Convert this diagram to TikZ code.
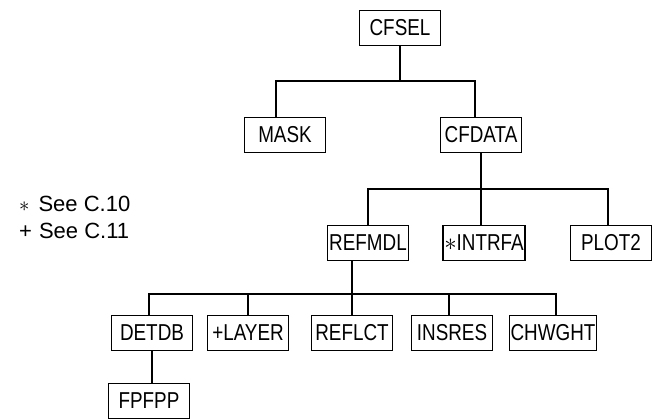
\documentclass[tikz,border=0pt]{standalone}
\usepackage{fontspec}
\setmainfont{Liberation Sans}
\newfontfamily\unitfont[FakeStretch=0.82]{Liberation Sans}
\tikzset{
  unit/.style={draw,line width=1.6pt,font=\unitfont\fontsize{23}{25}\selectfont,
    minimum width=81pt,minimum height=35pt,inner sep=1pt},
  link/.style={line width=1.6pt},
  note/.style={anchor=west,font=\fontsize{22}{24}\selectfont,inner sep=0pt},
}

\begin{document}
\begin{tikzpicture}[x=1pt,y=-1pt]
  \useasboundingbox (0,0) rectangle (656,419);
  \node[unit] (cfsel) at (400,28) {CFSEL};
  \node[unit] (mask) at (285,135) {MASK};
  \node[unit] (cfdata) at (481,135) {CFDATA};
  \node[unit] (refmdl) at (368,243) {REFMDL};
  \node[unit] (intrfa) at (484,243) {$\ast$INTRFA};
  \node[unit] (plot2) at (611,243) {PLOT2};
  \node[unit] (detdb) at (152,333) {DETDB};
  \node[unit] (layer) at (248,333) {+LAYER};
  \node[unit] (reflct) at (352,333) {REFLCT};
  \node[unit] (insres) at (452,333) {INSRES};
  \node[unit] (chwght) at (553,333) {CHWGHT};
  \node[unit] (fpfpp) at (149,401) {FPFPP};
  \node[note] (see10) at (19,204) {$\ast$\hspace{9pt}See C.10};
  \node[note] (see11) at (19,231) {+\hspace{7pt}See C.11};

  \coordinate (busa) at (0,81);
  \coordinate (busb) at (0,189);
  \coordinate (busc) at (0,294);
  \coordinate (maskin) at ([xshift=-9pt]mask.north);
  \coordinate (cfdatain) at ([xshift=-6pt]cfdata.north);
  \coordinate (plotin) at ([xshift=-3pt]plot2.north);
  \coordinate (detdbin) at ([xshift=-3pt]detdb.north);
  \coordinate (chwghtin) at ([xshift=3pt]chwght.north);

  \draw[link] (cfsel.south) -- (cfsel.south |- busa);
  \draw[link] (maskin) |- (cfdatain |- busa) -- (cfdatain);
  \draw[link] (cfdata.south) -- (cfdata.south |- intrfa.north);
  \draw[link] (refmdl.north) |- (plotin |- busb) -- (plotin);
  \draw[link] (reflct.north) -- (reflct.north |- refmdl.south);
  \draw[link] (detdbin) |- (chwghtin |- busc) -- (chwghtin);
  \draw[link] (layer.north) -- (layer.north |- busc);
  \draw[link] ([xshift=-3pt]insres.north) -- ([xshift=-3pt]insres.north |- busc);
  \draw[link] (detdb.south) -- (detdb.south |- fpfpp.north);
\end{tikzpicture}
\end{document}
